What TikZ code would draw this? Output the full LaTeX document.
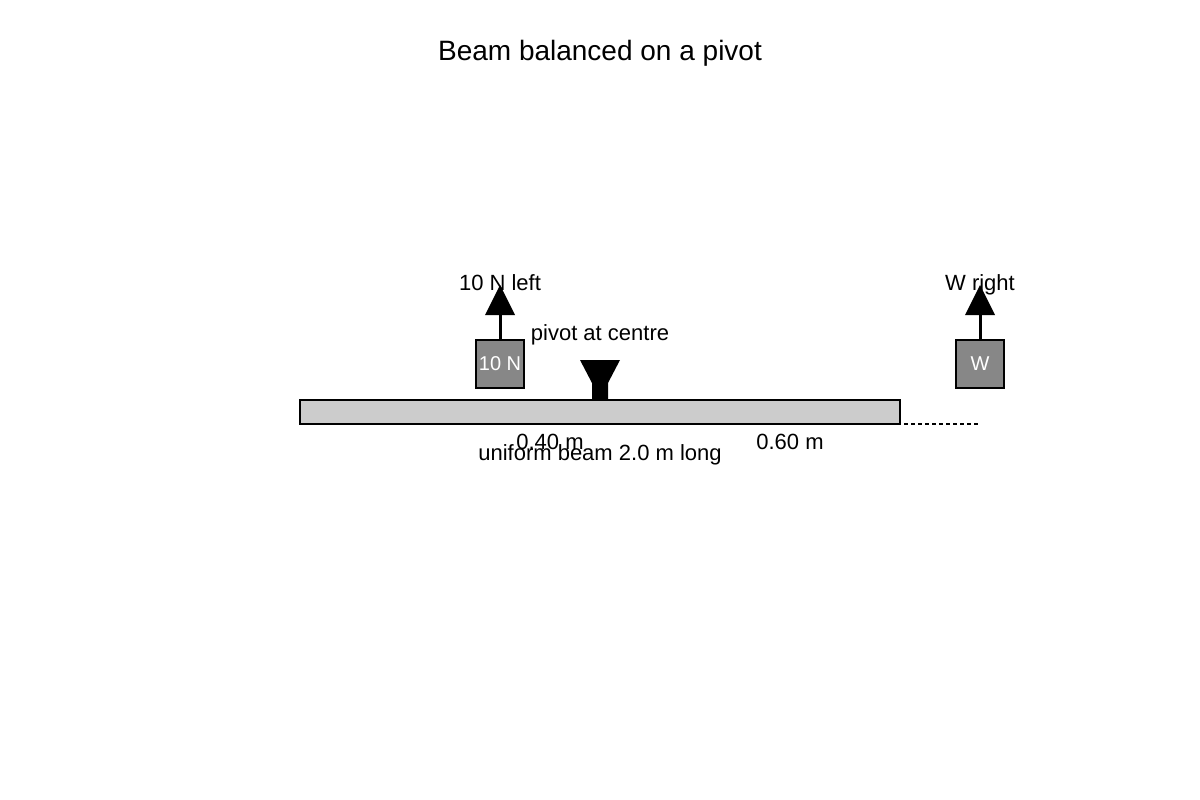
\documentclass[tikz,border=0pt]{standalone}
\usepackage{fontspec}
\setmainfont{Liberation Sans}
\begin{document}
\begin{tikzpicture}[x=1pt,y=-1pt,
  lbl/.style={font=\fontsize{22}{24}\selectfont,inner sep=0pt,anchor=base},
  mass/.style={draw=black,line width=1.6pt,fill=black!47,minimum size=48pt,inner sep=0pt,text=white,font=\fontsize{20}{24}\selectfont},
  force/.style={line width=3pt}]
\useasboundingbox (0,0) rectangle (1200,800);
\node[font=\fontsize{28}{32}\selectfont,inner sep=0pt,anchor=base] (title) at (600,60) {Beam balanced on a pivot};
\node[draw=black,line width=1.6pt,fill=black!20,minimum width=600pt,minimum height=24pt,inner sep=0pt] (beam) at (600,412) {};
\fill (580,360) -- (620,360) -- (608,383) -- (608,400) -- (592,400) -- (592,383) -- cycle;
\node[mass] (m1) at (500,364) {10 N};
\node[mass] (m2) at (980,364) {W};
\coordinate (t1) at (500,315);
\coordinate (t2) at (980,315);
\draw[force] (m1.north) -- (t1);
\draw[force] (m2.north) -- (t2);
\fill (485,315) -- (515,315) -- (500,285) -- cycle;
\fill (965,315) -- (995,315) -- (980,285) -- cycle;
\coordinate (d1) at (904,424);
\coordinate (d2) at (980,424);
\draw[line width=2pt,dash pattern=on 4pt off 3pt] (d1) -- (d2);
\node[lbl] (l1) at (500,290) {10 N left};
\node[lbl] (l2) at (980,290) {W right};
\node[lbl] (pv) at (600,340) {pivot at centre};
\node[lbl] (a) at (550,449) {0.40 m};
\node[lbl] (b) at (790,449) {0.60 m};
\node[lbl] (c) at (600,460) {uniform beam 2.0 m long};
\end{tikzpicture}
\end{document}
